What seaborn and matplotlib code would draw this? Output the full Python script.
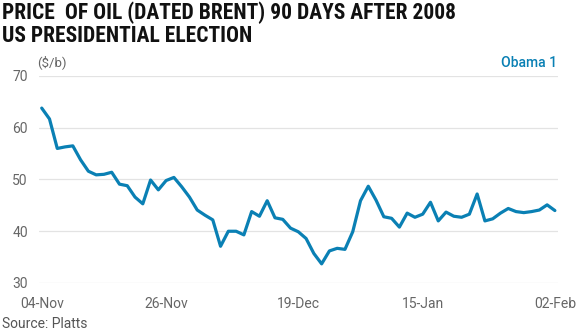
import matplotlib
matplotlib.use("Agg")
import matplotlib.pyplot as plt
from matplotlib import font_manager
import seaborn as sns
import pandas as pd

# ---- data ----
prices = [63.8, 61.7, 56.0, 56.3, 56.5, 53.8, 51.6, 50.9, 51.0, 51.4,
          49.1, 48.8, 46.6, 45.3, 49.9, 48.0, 49.8, 50.4, 48.6, 46.6,
          44.1, 43.1, 42.2, 37.1, 40.0, 40.0, 39.3, 43.8, 42.9, 45.9,
          42.6, 42.3, 40.6, 39.9, 38.6, 35.7, 33.7, 36.2, 36.7, 36.5,
          39.9, 45.9, 48.7, 46.0, 42.8, 42.5, 40.8, 43.5, 42.7, 43.3,
          45.6, 42.0, 43.7, 42.9, 42.7, 43.3, 47.2, 42.0, 42.4, 43.5,
          44.4, 43.8, 43.6, 43.8, 44.1, 45.1, 44.0]
day_index = list(range(len(prices)))
tick_labels = ["04-Nov", "26-Nov", "19-Dec", "15-Jan", "02-Feb"]
tick_index = [0, 16, 33, 49, 66]
y_ticks = [30, 40, 50, 60, 70]
series_name = "Obama 1"
title_lines = ["PRICE  OF OIL (DATED BRENT) 90 DAYS AFTER 2008", "US PRESIDENTIAL ELECTION"]

df = pd.DataFrame({"day": day_index, "price": prices})

# ---- style ----
sns.set_theme(style="white")
plt.rcParams["font.family"] = ["Roboto", "DejaVu Sans"]

W, H = 580, 334
fig = plt.figure(figsize=(W / 100, H / 100), dpi=100)
ax = fig.add_axes([39 / W, 1 - 283 / H, (558 - 39) / W, (283 - 76) / H])

blue = "#0a80b4"
sns.lineplot(data=df, x="day", y="price", ax=ax, color=blue, linewidth=2.3)

ax.set_ylim(30, 70)
ax.set_xlim(-0.35, 66.4)
ax.set_yticks(y_ticks)
ax.set_xticks(tick_index)
ax.set_xticklabels(tick_labels)
ax.set_xlabel("")
ax.set_ylabel("")
ax.grid(axis="y", color="#e3e3e3", linewidth=0.9)
ax.grid(axis="x", visible=False)
ax.set_axisbelow(True)
for s in ax.spines.values():
    s.set_visible(False)
ax.tick_params(axis="both", length=0, labelsize=10, colors="#666666")
ax.tick_params(axis="y", pad=8)
ax.tick_params(axis="x", pad=10)

# pick a narrow font for the title if one is installed
names = {f.name for f in font_manager.fontManager.ttflist}
stretch = "normal"
title_family = ["Roboto", "DejaVu Sans"]
for cand in ["Roboto Condensed", "Liberation Sans Narrow", "Open Sans Condensed"]:
    if cand in names:
        title_family = [cand, "DejaVu Sans"]
        break
else:
    if any(f.name == "DejaVu Sans" and "ondensed" in str(f.stretch) for f in font_manager.fontManager.ttflist):
        title_family = ["DejaVu Sans"]
        stretch = "condensed"

t_kw = dict(ha="left", va="baseline", fontsize=14, fontweight="bold", color="#111111",
            family=title_family, fontstretch=stretch)
t1 = fig.text(2 / W, 1 - 19 / H, title_lines[0], **t_kw)
t2 = fig.text(2 / W, 1 - 42 / H, title_lines[1], **t_kw)
# fit the second line's width to the reference (~255 px)
fig.canvas.draw()
r = fig.canvas.get_renderer()
w = t2.get_window_extent(r).width
fs = min(14 * 255 / w, 15.5)
t1.set_fontsize(fs)
t2.set_fontsize(fs)

fig.text(37 / W, 1 - 62 / H, "($/b)", ha="left", va="center", fontsize=9.5, color="#666666")
fig.text(557 / W, 1 - 63 / H, series_name, ha="right", va="center", fontsize=10,
         fontweight="medium", color=blue)
fig.text(2 / W, 1 - 324 / H, "Source: Platts", ha="left", va="center", fontsize=10, color="#555555")

fig.savefig("out.png", dpi=100)
